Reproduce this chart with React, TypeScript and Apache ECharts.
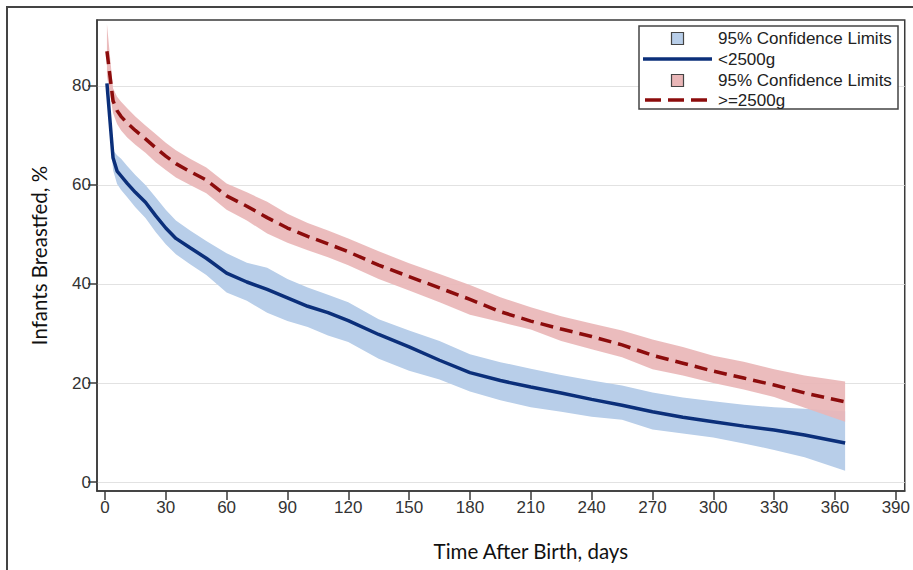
import React, { useEffect, useRef } from "react";
import * as echarts from "echarts";

const days = [1, 4, 6, 8, 11, 15, 20, 25, 30, 35, 42, 50, 60, 70, 80, 90, 100, 110, 120, 135, 150, 165, 180, 195, 210, 225, 240, 255, 270, 285, 300, 315, 330, 345, 365];

const lowWeight = [80.5, 65.5, 62.8, 61.8, 60.3, 58.5, 56.5, 53.8, 51.3, 49.2, 47.3, 45.2, 42.2, 40.4, 38.9, 37.2, 35.5, 34.2, 32.6, 29.8, 27.3, 24.6, 22.1, 20.5, 19.2, 18.0, 16.7, 15.5, 14.2, 13.1, 12.2, 11.3, 10.5, 9.5, 7.9];
const lowWeightUpper = [81, 67, 66, 65.3, 63.8, 62, 60, 57.5, 55, 52.8, 50.8, 48.7, 46.2, 44.3, 43.3, 41.0, 39.3, 37.8, 36.3, 32.9, 30.6, 28.5, 25.8, 24.2, 22.9, 21.6, 20.5, 19.5, 18.1, 17.1, 16.3, 15.6, 15.1, 14.8, 14.3];
const lowWeightLower = [80, 63, 60.2, 59, 57.5, 55.5, 53.3, 50.5, 48, 46, 44, 41.8, 38.3, 36.6, 34.2, 32.5, 31.3, 29.6, 28.3, 24.9, 22.5, 20.7, 18.3, 16.5, 15.1, 14.2, 13.2, 12.6, 10.6, 9.8, 9.0, 7.8, 6.5, 5.0, 2.3];

const normalWeight = [87, 77, 75, 73.8, 72.5, 71, 69.3, 67.5, 65.8, 64.3, 62.7, 61, 57.8, 55.7, 53.4, 51.3, 49.6, 48.1, 46.5, 43.8, 41.5, 39.2, 36.9, 34.4, 32.5, 30.9, 29.4, 27.7, 25.6, 24.0, 22.4, 21.0, 19.6, 18.0, 16.2];
const normalWeightUpper = [92.5, 79.5, 77.8, 76.8, 75.5, 73.8, 72, 70.3, 68.5, 67, 65.3, 63.5, 60.3, 58.5, 56.6, 54.2, 52.3, 50.8, 49.2, 46.6, 44.2, 42, 39.8, 37.3, 35.3, 33.5, 32, 30.6, 28.8, 27.3, 25.5, 24.3, 22.8, 21.5, 20.3];
const normalWeightLower = [82, 74.5, 72.3, 71, 69.6, 68.1, 66.5, 64.6, 63, 61.5, 60, 58.3, 55, 52.8, 50.2, 48.3, 46.8, 45.4, 43.8, 41, 38.7, 36.3, 33.8, 32.3, 30.8, 28.5, 26.8, 25.2, 22.8, 21.5, 20, 18.7, 17.2, 15, 12.2];

const xTicks = [0, 30, 60, 90, 120, 150, 180, 210, 240, 270, 300, 330, 360, 390];
const yTicks = [0, 20, 40, 60, 80];

const legendLabels = ["95% Confidence Limits", "<2500g", "95% Confidence Limits", ">=2500g"];

const BLUE_LINE = "#0b2f7a";
const BLUE_BAND = "#b8cee9";
const RED_LINE = "#8c0c0c";
const RED_BAND = "#e9b6b7";
const AXIS = "#3a3a3a";
const TICK_FONT = "'Liberation Sans', Arial, sans-serif";
const TITLE_FONT = "Lato, 'Open Sans', sans-serif";

const pairs = (ys: number[]) => days.map((d, i) => [d, ys[i]]);
// band rows: [day, lower, upper]
const bandRows = (lo: number[], hi: number[]) => days.map((d, i) => [d, lo[i], hi[i]]);

function bandSeries(name: string, lo: number[], hi: number[], color: string, opacity: number) {
  const rows = bandRows(lo, hi);
  return {
    type: "custom",
    name,
    silent: true,
    clip: true,
    data: [rows[0]],
    encode: { x: 0, y: [1, 2] },
    renderItem: (params: any, api: any) => {
      const top = rows.map((r) => api.coord([r[0], r[2]]));
      const bottom = rows.map((r) => api.coord([r[0], r[1]])).reverse();
      return {
        type: "polygon",
        shape: { points: top.concat(bottom) },
        style: { fill: color, opacity },
        silent: true,
      };
    },
  };
}

export default function App() {
  const ref = useRef<HTMLDivElement>(null);

  useEffect(() => {
    document.body.style.margin = "0";
    if (!ref.current) return;
    const chart = echarts.init(ref.current, undefined, { renderer: "svg" });

    chart.setOption({
      animation: false,
      backgroundColor: "#ffffff",
      grid: {
        left: 97,
        top: 20,
        right: 6,
        bottom: 79,
        show: true,
        borderColor: AXIS,
        borderWidth: 1.5,
        backgroundColor: "transparent",
      },
      xAxis: {
        type: "value",
        min: -3.9,
        max: 394.4,
        name: "Time After Birth, days",
        nameLocation: "middle",
        nameGap: 49,
        nameTextStyle: {
          fontFamily: TITLE_FONT,
          fontSize: 20.5,
          color: "#111",
          padding: [0, 0, 0, 60],
        },
        axisLine: { show: true, onZero: false, lineStyle: { color: AXIS, width: 1.5 } },
        axisTick: { show: true, length: 9, customValues: xTicks, lineStyle: { color: AXIS, width: 1.5 } },
        axisLabel: {
          customValues: xTicks,
          margin: 8,
          fontFamily: TICK_FONT,
          fontSize: 17,
          color: "#333",
        },
        splitLine: { show: false },
      },
      yAxis: {
        type: "value",
        min: -1.8,
        max: 93.3,
        name: "Infants Breastfed, %",
        nameLocation: "middle",
        nameGap: 48,
        nameTextStyle: {
          fontFamily: TITLE_FONT,
          fontSize: 20.5,
          color: "#111",
        },
        axisLine: { show: true, onZero: false, lineStyle: { color: AXIS, width: 1.5 } },
        axisTick: { show: true, length: 9, customValues: yTicks, lineStyle: { color: AXIS, width: 1.5 } },
        axisLabel: {
          customValues: yTicks,
          margin: 6,
          fontFamily: TICK_FONT,
          fontSize: 17,
          color: "#333",
        },
        splitLine: { show: true, lineStyle: { color: "#e2e2e2", width: 1.2 } },
      },
      series: [
        bandSeries("lowBand", lowWeightLower, lowWeightUpper, BLUE_BAND, 1),
        bandSeries("normBand", normalWeightLower, normalWeightUpper, RED_BAND, 0.92),
        {
          type: "line",
          name: "<2500g",
          data: pairs(lowWeight),
          symbol: "none",
          silent: true,
          lineStyle: { color: BLUE_LINE, width: 3.5 },
        },
        {
          type: "line",
          name: ">=2500g",
          data: pairs(normalWeight),
          symbol: "none",
          silent: true,
          lineStyle: { color: RED_LINE, width: 3.5, type: [13, 7] },
        },
      ],
      graphic: [
        {
          type: "rect",
          shape: { x: 7, y: 7, width: 930, height: 590 },
          style: { fill: "none", stroke: "#444", lineWidth: 2 },
          silent: true,
        },
        {
          type: "rect",
          shape: { x: 639, y: 26, width: 259, height: 83 },
          style: { fill: "#fff", stroke: "#444", lineWidth: 1.5 },
          silent: true,
          z: 10,
        },
        {
          type: "rect",
          shape: { x: 671.5, y: 32.5, width: 12, height: 12 },
          style: { fill: BLUE_BAND, stroke: "#444", lineWidth: 1.2 },
          z: 11,
        },
        {
          type: "line",
          shape: { x1: 643, y1: 59, x2: 712, y2: 59 },
          style: { stroke: BLUE_LINE, lineWidth: 3.5 },
          z: 11,
        },
        {
          type: "rect",
          shape: { x: 671.5, y: 74.5, width: 12, height: 12 },
          style: { fill: RED_BAND, stroke: "#444", lineWidth: 1.2 },
          z: 11,
        },
        {
          type: "line",
          shape: { x1: 645, y1: 100, x2: 707, y2: 100 },
          style: { stroke: RED_LINE, lineWidth: 3.5, lineDash: [16, 7] },
          z: 11,
        },
        ...legendLabels.map((t, i) => ({
          type: "text",
          x: 718,
          y: [38.5, 59.5, 80.5, 100.5][i],
          z: 11,
          style: {
            text: t,
            font: `17px ${TICK_FONT}`,
            fill: "#222",
            verticalAlign: "middle",
            align: "left",
          },
        })),
      ],
    });

    return () => chart.dispose();
  }, []);

  return <div ref={ref} style={{ width: 913, height: 570 }} />;
}
